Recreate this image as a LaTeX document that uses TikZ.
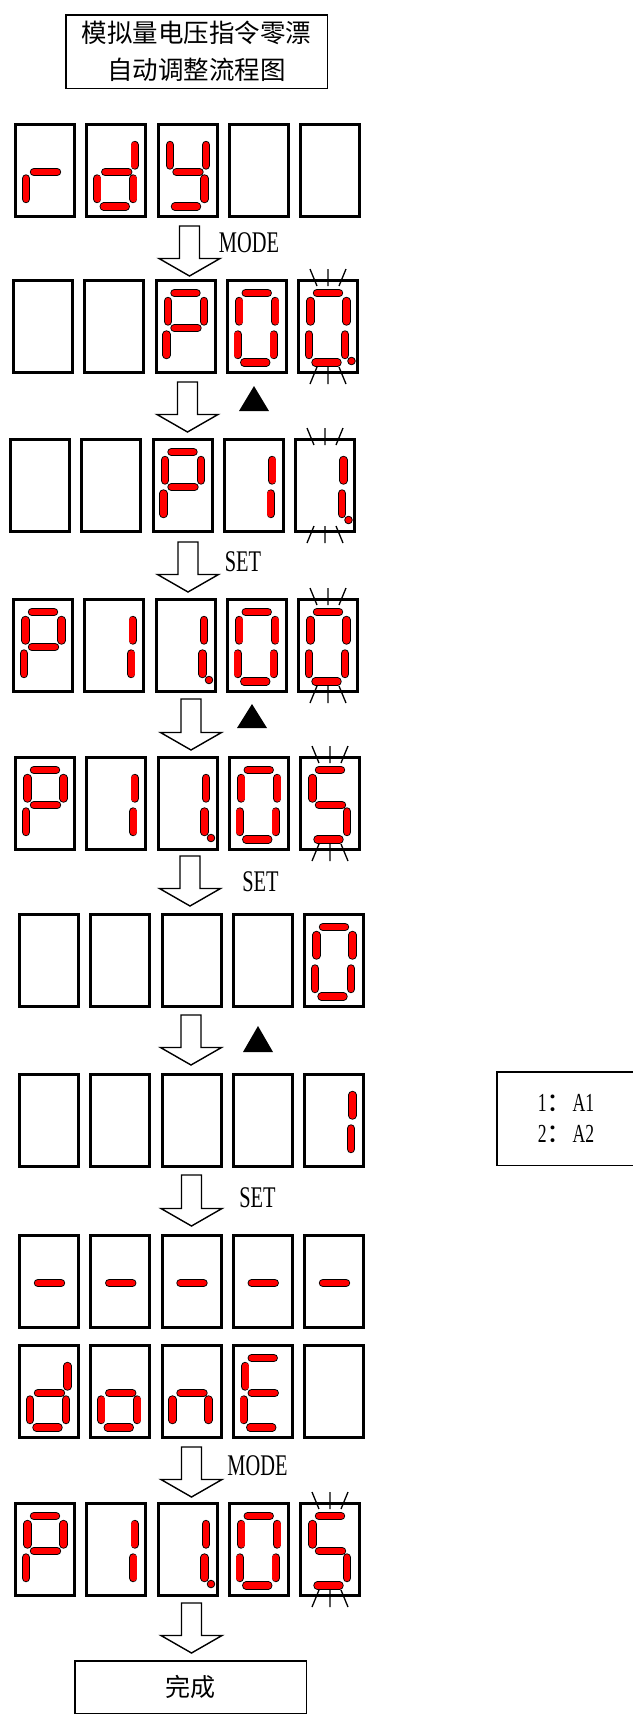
\documentclass[tikz,border=0pt]{standalone}
\usepackage{fontspec}
\newfontfamily\cjk{Noto Sans CJK SC}
\newfontfamily\keyfont[FakeStretch=0.68]{Liberation Serif}

% segments of one digit, offsets from the box centre (y grows downwards)
\def\sga{(-11,-33.5) -- (11,-33.5)}
\def\sgb{(18.5,-25.5) -- (18.5,-5)}
\def\sgc{(17,8) -- (17,28.5)}
\def\sgd{(-12.5,36) -- (9.5,36)}
\def\sge{(-19,8) -- (-19,28.5)}
\def\sgf{(-17.5,-25.5) -- (-17.5,-5)}
\def\sgg{(-11,1.5) -- (12,1.5)}

\tikzset{
  digbox/.style={draw, line width=3pt, minimum width=59pt, minimum height=92pt, inner sep=0pt},
  seg/.style={draw=black, line width=0.9pt, double=red, double distance=6.6pt, line cap=round},
  dotpt/.style={draw=black, line width=0.8pt, fill=red},
  blinkline/.style={line width=1.3pt},
  keylabel/.style={font=\keyfont\fontsize{30}{30}\selectfont, inner sep=0pt},
  framebox/.style={draw, line width=1.5pt, inner sep=0pt},
  hollowarrow/.style={draw, line width=1.4pt, fill=white, line join=miter}
}

% a row of five boxes: name, left edge, top edge
\newcommand\digrow[3]{%
  \foreach \k in {1,...,5}
    \node[digbox] (#1d\k) at ({#2+31+71.25*(\k-1)}, {#3+47.5}) {};}
% lit segments of one box
\newcommand\segs[2]{%
  \foreach \s in {#2}{\edef\segpath{\csname sg\s\endcsname}%
    \draw[seg, shift={(#1)}] \segpath;}}
\newcommand\dotpoint[1]{\draw[dotpt, shift={(#1)}] (23.5,34.5) circle (3.8pt);}
% flashing marks above and below a box
\newcommand\blinkmark[1]{%
  \draw[blinkline, shift={(#1)}] (-18,-57.5) -- (-11,-40.5) (0,-57.5) -- (0,-40.5) (18,-57.5) -- (11,-40.5)
    (-11,40.5) -- (-18,57.5) (0,40.5) -- (0,57.5) (11,40.5) -- (18,57.5);}
% hollow arrow: centre x, top of the stem, tip
\newcommand\bigarrow[3]{%
  \draw[hollowarrow] ({#1-10},#2) -- ({#1-10},{#3-17.5}) -- ({#1-30.5},{#3-17.5}) -- (#1,#3)
    -- ({#1+30.5},{#3-17.5}) -- ({#1+10},{#3-17.5}) -- ({#1+10},#2) -- cycle;}
% filled triangle key: left, right, bottom, top
\newcommand\upkey[4]{\fill ({#1},#3) -- ({#2},#3) -- ({(#1+#2)/2},#4) -- cycle;}

\begin{document}
\begin{tikzpicture}[x=1pt, y=-1pt]
  \useasboundingbox (0,0) rectangle (632,1716);

  % 标题
  \node[framebox, minimum width=261.5pt, minimum height=73.5pt, align=center,
        font=\cjk\fontsize{25.5}{37}\selectfont] (title) at (196.5,51.5)
        {模拟量电压指令零漂\\自动调整流程图};

  % 1. rdy
  \digrow{r1}{14}{123}
  \segs{r1d1}{e,g}
  \segs{r1d2}{b,c,d,e,g}
  \segs{r1d3}{b,c,d,f,g}
  \bigarrow{189.5}{226}{276}
  \node[keylabel] (k1) at (249,243) {MODE};

  % 2. P00.
  \digrow{r2}{12}{279}
  \segs{r2d3}{a,b,e,f,g}
  \segs{r2d4}{a,b,c,d,e,f}
  \segs{r2d5}{a,b,c,d,e,f}
  \dotpoint{r2d5}
  \blinkmark{r2d5}
  \bigarrow{187.5}{382}{432}
  \upkey{239}{269}{411}{386}

  % 3. P 1 1.
  \digrow{r3}{9}{438}
  \segs{r3d3}{a,b,e,f,g}
  \segs{r3d4}{b,c}
  \segs{r3d5}{b,c}
  \dotpoint{r3d5}
  \blinkmark{r3d5}
  \bigarrow{188}{542}{592}
  \node[keylabel] (k2) at (243,562) {SET};

  % 4. P1 1.00
  \digrow{r4}{12}{598}
  \segs{r4d1}{a,b,e,f,g}
  \segs{r4d2}{b,c}
  \segs{r4d3}{b,c}
  \dotpoint{r4d3}
  \segs{r4d4}{a,b,c,d,e,f}
  \segs{r4d5}{a,b,c,d,e,f}
  \blinkmark{r4d5}
  \bigarrow{191}{699}{750}
  \upkey{237}{267}{728}{704}

  % 5. P1 1.05
  \digrow{r5}{14}{756}
  \segs{r5d1}{a,b,e,f,g}
  \segs{r5d2}{b,c}
  \segs{r5d3}{b,c}
  \dotpoint{r5d3}
  \segs{r5d4}{a,b,c,d,e,f}
  \segs{r5d5}{a,c,d,f,g}
  \blinkmark{r5d5}
  \bigarrow{190}{856}{906}
  \node[keylabel] (k3) at (260.5,882) {SET};

  % 6. 0
  \digrow{r6}{18}{913}
  \segs{r6d5}{a,b,c,d,e,f}
  \bigarrow{191}{1015}{1065}
  \upkey{243}{273}{1052}{1026}

  % 7. 1
  \digrow{r7}{18}{1073}
  \segs{r7d5}{b,c}
  \bigarrow{191.5}{1175}{1226}
  \node[keylabel] (k4) at (257.5,1197.5) {SET};

  % 8. -----
  \digrow{r8}{18}{1234}
  \foreach \k in {1,...,5} {\segs{r8d\k}{g}}

  % 9. donE
  \digrow{r9}{18}{1344}
  \segs{r9d1}{b,c,d,e,g}
  \segs{r9d2}{c,d,e,g}
  \segs{r9d3}{c,e,g}
  \segs{r9d4}{a,d,e,f,g}
  \bigarrow{191.5}{1447}{1497}
  \node[keylabel] (k5) at (257.5,1465.5) {MODE};

  % 10. P1 1.05
  \digrow{r10}{14}{1502}
  \segs{r10d1}{a,b,e,f,g}
  \segs{r10d2}{b,c}
  \segs{r10d3}{b,c}
  \dotpoint{r10d3}
  \segs{r10d4}{a,b,c,d,e,f}
  \segs{r10d5}{a,c,d,f,g}
  \blinkmark{r10d5}
  \bigarrow{191.5}{1603}{1653}

  % 完成
  \node[framebox, minimum width=231.5pt, minimum height=52.5pt,
        font=\cjk\fontsize{25}{25}\selectfont] (done) at (190.5,1687) {完成};

  % 说明
  \node[framebox, minimum width=138pt, minimum height=93.5pt, align=center,
        font=\fontsize{26}{31}\selectfont] (legend) at (566,1118.5)
        {{\keyfont 1}{\cjk ：}{\keyfont A1}\\{\keyfont 2}{\cjk ：}{\keyfont A2}};
\end{tikzpicture}
\end{document}
